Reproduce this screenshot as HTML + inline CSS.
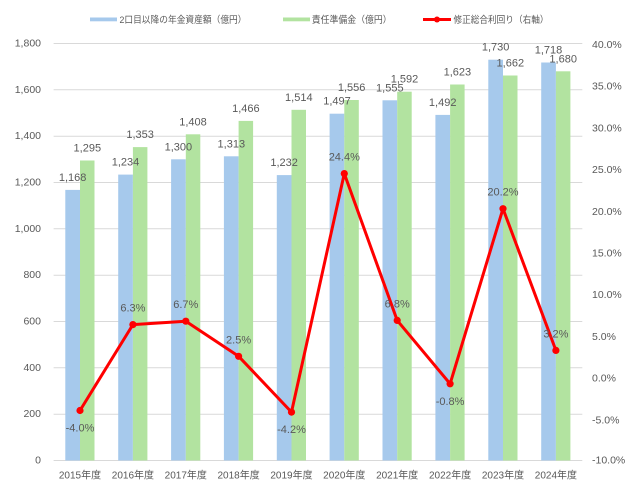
<!DOCTYPE html>
<html>
<head>
<meta charset="utf-8">
<style>
html,body{margin:0;padding:0;background:#fff;}
svg{display:block;}
text{font-family:"Liberation Sans","Noto Sans CJK JP",sans-serif;fill:#595959;}
</style>
</head>
<body>
<svg width="640" height="494" viewBox="0 0 640 494" xmlns="http://www.w3.org/2000/svg">
<rect width="640" height="494" fill="#fff"/>
<!-- gridlines -->
<g stroke="#d9d9d9" stroke-width="1">
<line x1="53.6" x2="582.3" y1="43.5" y2="43.5"/>
<line x1="53.6" x2="582.3" y1="89.8" y2="89.8"/>
<line x1="53.6" x2="582.3" y1="136.2" y2="136.2"/>
<line x1="53.6" x2="582.3" y1="182.5" y2="182.5"/>
<line x1="53.6" x2="582.3" y1="228.8" y2="228.8"/>
<line x1="53.6" x2="582.3" y1="275.2" y2="275.2"/>
<line x1="53.6" x2="582.3" y1="321.5" y2="321.5"/>
<line x1="53.6" x2="582.3" y1="367.8" y2="367.8"/>
<line x1="53.6" x2="582.3" y1="414.2" y2="414.2"/>
<line x1="53.6" x2="582.3" y1="460.5" y2="460.5"/>
</g>
<!-- left axis labels -->
<g font-size="10.5" text-anchor="end" dominant-baseline="central">
<text x="41" y="43.5">1,800</text>
<text x="41" y="89.8">1,600</text>
<text x="41" y="136.2">1,400</text>
<text x="41" y="182.5">1,200</text>
<text x="41" y="228.8">1,000</text>
<text x="41" y="275.2">800</text>
<text x="41" y="321.5">600</text>
<text x="41" y="367.8">400</text>
<text x="41" y="414.2">200</text>
<text x="41" y="460.5">0</text>
</g>
<!-- right axis labels -->
<g font-size="10.5" text-anchor="start" dominant-baseline="central">
<text x="592" y="45">40.0%</text>
<text x="592" y="86.7">35.0%</text>
<text x="592" y="128.4">30.0%</text>
<text x="592" y="170.1">25.0%</text>
<text x="592" y="211.8">20.0%</text>
<text x="592" y="253.5">15.0%</text>
<text x="592" y="295.2">10.0%</text>
<text x="592" y="336.9">5.0%</text>
<text x="592" y="378.6">0.0%</text>
<text x="592" y="420.3">-5.0%</text>
<text x="592" y="460.5">-10.0%</text>
</g>
<!-- blue bars -->
<g fill="#a6c9ec">
<rect x="65.3" y="189.9" width="14.7" height="270.6"/>
<rect x="118.2" y="174.6" width="14.7" height="285.9"/>
<rect x="171.1" y="159.3" width="14.7" height="301.2"/>
<rect x="223.9" y="156.3" width="14.7" height="304.2"/>
<rect x="276.8" y="175.1" width="14.7" height="285.4"/>
<rect x="329.6" y="113.7" width="14.7" height="346.8"/>
<rect x="382.5" y="100.3" width="14.7" height="360.2"/>
<rect x="435.4" y="114.9" width="14.7" height="345.6"/>
<rect x="488.3" y="59.7" width="14.7" height="400.8"/>
<rect x="541.2" y="62.5" width="14.7" height="398.0"/>
</g>
<!-- green bars -->
<g fill="#b2e3a0">
<rect x="80.0" y="160.5" width="14.5" height="300.0"/>
<rect x="132.9" y="147.1" width="14.5" height="313.4"/>
<rect x="185.8" y="134.3" width="14.5" height="326.2"/>
<rect x="238.6" y="120.9" width="14.5" height="339.6"/>
<rect x="291.5" y="109.8" width="14.5" height="350.7"/>
<rect x="344.3" y="100.0" width="14.5" height="360.5"/>
<rect x="397.2" y="91.7" width="14.5" height="368.8"/>
<rect x="450.1" y="84.5" width="14.5" height="376.0"/>
<rect x="503.0" y="75.5" width="14.5" height="385.0"/>
<rect x="555.9" y="71.3" width="14.5" height="389.2"/>
</g>
<!-- line -->
<polyline fill="none" stroke="#ff0000" stroke-width="3" stroke-linejoin="round" points="80.0,410.5 132.9,324.6 185.8,321.2 238.6,356.3 291.5,412.1 344.3,173.6 397.2,320.4 450.1,383.8 503.0,208.7 555.9,350.4"/>
<g fill="#ff0000">
<circle cx="80.0" cy="410.5" r="3.6"/>
<circle cx="132.9" cy="324.6" r="3.6"/>
<circle cx="185.8" cy="321.2" r="3.6"/>
<circle cx="238.6" cy="356.3" r="3.6"/>
<circle cx="291.5" cy="412.1" r="3.6"/>
<circle cx="344.3" cy="173.6" r="3.6"/>
<circle cx="397.2" cy="320.4" r="3.6"/>
<circle cx="450.1" cy="383.8" r="3.6"/>
<circle cx="503.0" cy="208.7" r="3.6"/>
<circle cx="555.9" cy="350.4" r="3.6"/>
</g>
<!-- bar data labels -->
<g font-size="11" text-anchor="middle" dominant-baseline="central">
<text x="72.6" y="178">1,168</text>
<text x="125.5" y="162.6">1,234</text>
<text x="178.4" y="147.3">1,300</text>
<text x="231.3" y="144.3">1,313</text>
<text x="284.1" y="163.1">1,232</text>
<text x="337.0" y="101.7">1,497</text>
<text x="389.8" y="88.3">1,555</text>
<text x="442.7" y="102.9">1,492</text>
<text x="495.6" y="47.7">1,730</text>
<text x="548.5" y="50.5">1,718</text>
<text x="87.3" y="148.5">1,295</text>
<text x="140.1" y="135.1">1,353</text>
<text x="193.0" y="122.3">1,408</text>
<text x="245.9" y="108.9">1,466</text>
<text x="298.8" y="97.8">1,514</text>
<text x="351.6" y="88">1,556</text>
<text x="404.5" y="79.7">1,592</text>
<text x="457.4" y="72.5">1,623</text>
<text x="510.3" y="63.5">1,662</text>
<text x="563.2" y="59.3">1,680</text>
</g>
<!-- line data labels -->
<g font-size="11" text-anchor="middle" dominant-baseline="central">
<text x="80.0" y="428.5">-4.0%</text>
<text x="132.9" y="308.6">6.3%</text>
<text x="185.8" y="305.2">6.7%</text>
<text x="238.6" y="340.3">2.5%</text>
<text x="291.5" y="430.1">-4.2%</text>
<text x="344.3" y="157.6">24.4%</text>
<text x="397.2" y="304.4">6.8%</text>
<text x="450.1" y="401.8">-0.8%</text>
<text x="503.0" y="192.7">20.2%</text>
<text x="555.9" y="334.4">3.2%</text>
</g>
<!-- category labels -->
<g font-size="10" text-anchor="middle" dominant-baseline="central">
<text x="80.0" y="476">2015年度</text>
<text x="132.9" y="476">2016年度</text>
<text x="185.8" y="476">2017年度</text>
<text x="238.6" y="476">2018年度</text>
<text x="291.5" y="476">2019年度</text>
<text x="344.3" y="476">2020年度</text>
<text x="397.2" y="476">2021年度</text>
<text x="450.1" y="476">2022年度</text>
<text x="503.0" y="476">2023年度</text>
<text x="555.9" y="476">2024年度</text>
</g>
<!-- legend -->
<rect x="90" y="17.5" width="27" height="3.8" fill="#a6c9ec"/>
<text x="119.5" y="19.5" font-size="9.4" dominant-baseline="central" textLength="127" lengthAdjust="spacingAndGlyphs">2口目以降の年金資産額（億円）</text>
<rect x="283" y="17.5" width="27" height="3.8" fill="#b2e3a0"/>
<text x="311.7" y="19.5" font-size="9.4" dominant-baseline="central" textLength="80" lengthAdjust="spacingAndGlyphs">責任準備金（億円）</text>
<line x1="423" x2="451" y1="19.5" y2="19.5" stroke="#ff0000" stroke-width="3"/>
<circle cx="437" cy="19.5" r="3" fill="#ff0000"/>
<text x="453.5" y="19.5" font-size="9.4" dominant-baseline="central" textLength="95" lengthAdjust="spacingAndGlyphs">修正総合利回り（右軸）</text>
</svg>
</body>
</html>
